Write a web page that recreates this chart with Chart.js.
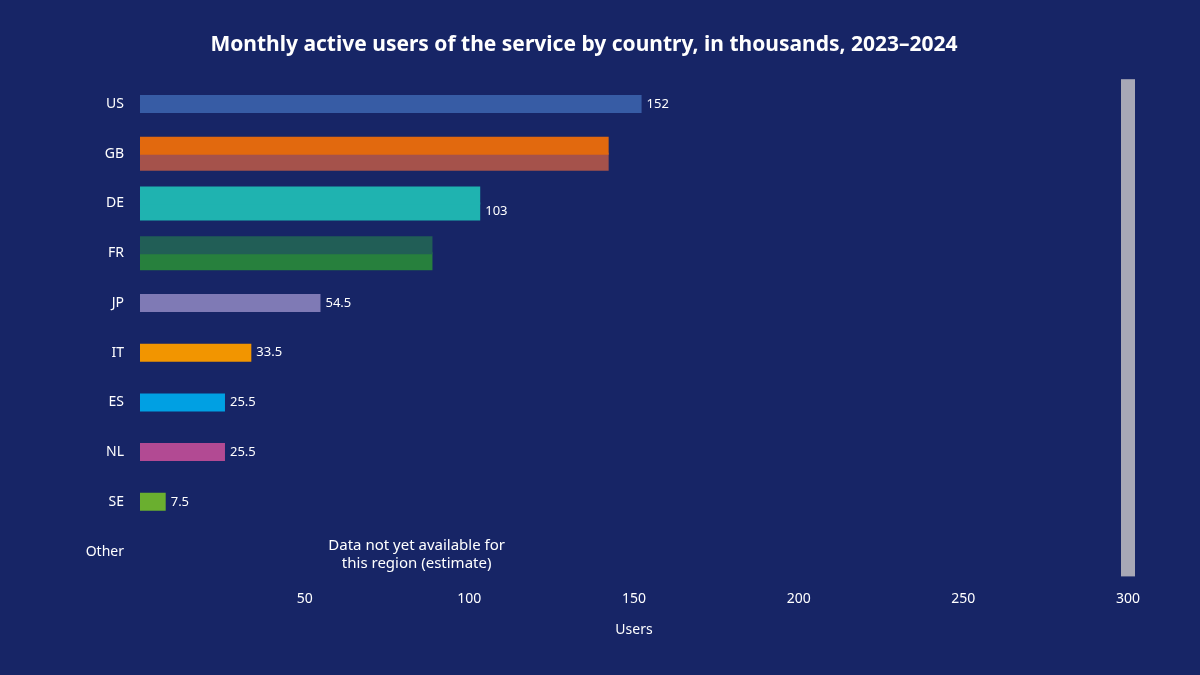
<!DOCTYPE html>
<html>
<head>
<meta charset="utf-8">
<script src="https://cdn.jsdelivr.net/npm/chart.js@4.4.1/dist/chart.umd.min.js"></script>
<style>
  html, body { margin: 0; padding: 0; background: #172566; }
  #wrap { width: 1200px; height: 675px; }
</style>
</head>
<body>
<div id="wrap"><canvas id="chart"></canvas></div>
<script>
// categories (y axis)
const categories = ["US", "GB", "DE", "FR", "JP", "IT", "ES", "NL", "SE", "Other"];
// first series (upper bar of each pair)
const series2023 = [152, 142, 103, 88.5, null, null, null, null, null, null];
// second series (lower bar of each pair)
const series2024 = [null, 142, 103, 88.5, 54.5, 33.5, 25.5, 25.5, 7.5, null];
// rows that get a value label
const showValue = [true, false, true, false, true, true, true, true, true, false];
// x axis ticks
const tickMax = 300;
const tickStep = 50;
// colours per bar
const colors2023 = ["#375ca5", "#e2690e", "#1fb3b0", "#215e56", "#7f7ab5", "#f29500", "#00a0e3", "#b24a93", "#6aaf2f", "#9a9aaa"];
const colors2024 = ["#375ca5", "#a5524b", "#1fb3b0", "#27803d", "#7f7ab5", "#f29500", "#00a0e3", "#b24a93", "#6aaf2f", "#9a9aaa"];
// note shown in the empty last row
const noteLines = ["Data not yet available for", "this region (estimate)"];
const noteValue = 84;

const bgColor = "#172566";

//paint the background and the extras
const extras = {
  id: "extras",
  beforeDraw(chart) {
    const ctx = chart.ctx;
    ctx.save();
    ctx.fillStyle = bgColor;
    ctx.fillRect(0, 0, chart.width, chart.height);
    ctx.restore();
  },
  afterDatasetsDraw(chart) {
    const ctx = chart.ctx;
    const x = chart.scales.x;
    const y = chart.scales.y;
    const area = chart.chartArea;
    ctx.save();
    //reference line at the top of the scale
    ctx.fillStyle = "#a8a8b6";
    const lx = x.getPixelForValue(tickMax);
    ctx.fillRect(lx - 7, area.top, 14, area.bottom - area.top);

    //value labels, one per row on the last bar
    ctx.font = "13px 'Noto Sans'";
    ctx.fillStyle = "#ffffff";
    ctx.textBaseline = "middle";
    ctx.textAlign = "left";
    categories.forEach((c, j) => {
      if (!showValue[j]) return;
      let last = -1;
      chart.data.datasets.forEach((ds, i) => { if (ds.data[j] !== null) last = i; });
      if (last < 0) return;
      const bar = chart.getDatasetMeta(last).data[j];
      const v = chart.data.datasets[last].data[j];
      ctx.fillText(v.toLocaleString("en-US"), bar.x + 6, bar.y);
    });

    //note in the last row
    ctx.textAlign = "center";
    ctx.font = "15px 'Noto Sans'";
    const ny = y.getPixelForValue(categories.length - 1);
    const nx = x.getPixelForValue(noteValue);
    ctx.fillText(noteLines[0], nx, ny - 6);
    ctx.fillText(noteLines[1], nx, ny + 12);
    ctx.restore();
  }
};

new Chart(document.getElementById("chart"), {
  type: "bar",
  plugins: [extras],
  data: {
    labels: categories,
    datasets: [
      { label: "2023", data: series2023, backgroundColor: colors2023, barThickness: 16, inflateAmount: 1 },
      { label: "2024", data: series2024, backgroundColor: colors2024, barThickness: 16, inflateAmount: 1 }
    ]
  },
  options: {
    indexAxis: "y",
    responsive: true,
    maintainAspectRatio: false,
    animation: false,
    skipNull: true,
    layout: { padding: { left: 40, right: 72, top: 10, bottom: 33 } },
    plugins: {
      legend: { display: false },
      tooltip: { enabled: false },
      title: {
        display: true,
        text: "Monthly active users of the service by country, in thousands, 2023–2024",
        color: "#ffffff",
        font: { family: "'Noto Sans'", size: 21, weight: "bold" },
        padding: { top: 22, bottom: 22 }
      }
    },
    scales: {
      x: {
        min: 0,
        max: tickMax,
        grid: { display: false },
        border: { display: false },
        ticks: {
          stepSize: tickStep,
          color: "#ffffff",
          font: { family: "'Noto Sans'", size: 14 },
          padding: 6,
          callback: (v) => (v === 0 ? "" : v)
        },
        title: {
          display: true,
          text: "Users",
          color: "#ffffff",
          font: { family: "'Noto Sans'", size: 14 },
          padding: { top: 8 }
        }
      },
      y: {
        grid: { display: false },
        border: { display: false },
        ticks: {
          color: "#ffffff",
          font: { family: "'Noto Sans'", size: 14 },
          padding: 8
        },
        afterFit: (s) => { s.width = 100; }
      }
    }
  }
});
</script>
</body>
</html>
